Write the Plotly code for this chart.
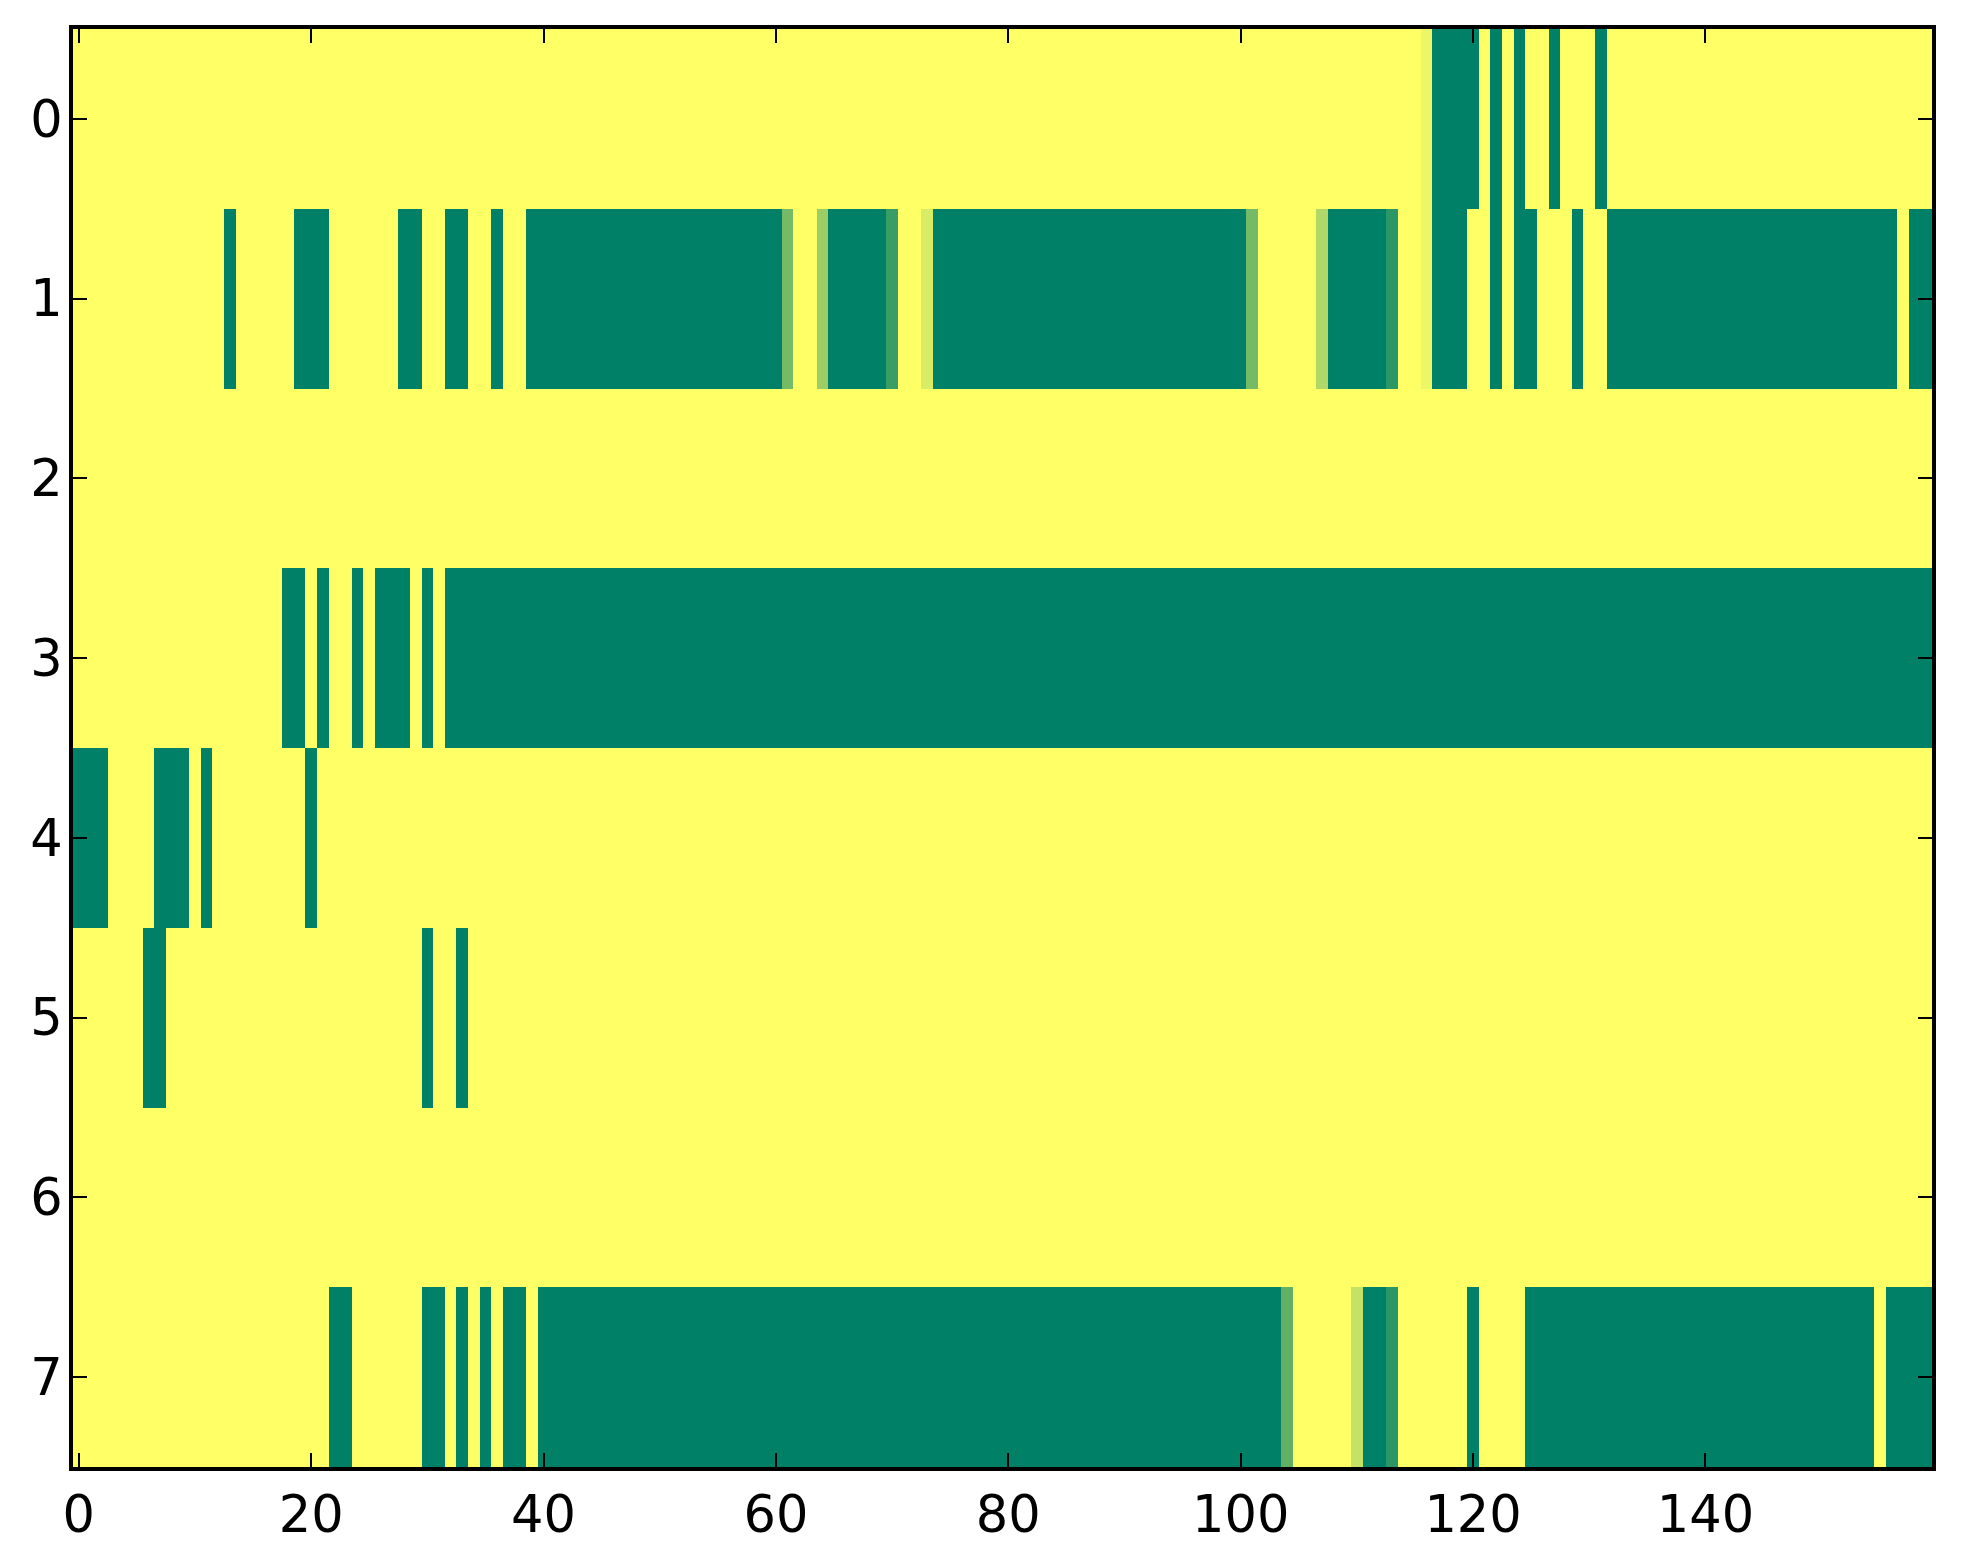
import plotly.graph_objects as go

# ---- data (8 rows x 160 columns, values 0..1) ----
ROW_0 = [
    1, 1, 1, 1, 1, 1, 1, 1, 1, 1, 1, 1, 1, 1, 1, 1, 1, 1, 1, 1,
    1, 1, 1, 1, 1, 1, 1, 1, 1, 1, 1, 1, 1, 1, 1, 1, 1, 1, 1, 1,
    1, 1, 1, 1, 1, 1, 1, 1, 1, 1, 1, 1, 1, 1, 1, 1, 1, 1, 1, 1,
    1, 1, 1, 1, 1, 1, 1, 1, 1, 1, 1, 1, 1, 1, 1, 1, 1, 1, 1, 1,
    1, 1, 1, 1, 1, 1, 1, 1, 1, 1, 1, 1, 1, 1, 1, 1, 1, 1, 1, 1,
    1, 1, 1, 1, 1, 1, 1, 1, 1, 1, 1, 1, 1, 1, 1, 1, 0.93, 0, 0, 0,
    0, 1, 0, 1, 0, 1, 1, 0, 1, 1, 1, 0, 1, 1, 1, 1, 1, 1, 1, 1,
    1, 1, 1, 1, 1, 1, 1, 1, 1, 1, 1, 1, 1, 1, 1, 1, 1, 1, 1, 1,
]
ROW_1 = [
    1, 1, 1, 1, 1, 1, 1, 1, 1, 1, 1, 1, 1, 0, 1, 1, 1, 1, 1, 0,
    0, 0, 1, 1, 1, 1, 1, 1, 0, 0, 1, 1, 0, 0, 1, 1, 0, 1, 1, 0,
    0, 0, 0, 0, 0, 0, 0, 0, 0, 0, 0, 0, 0, 0, 0, 0, 0, 0, 0, 0,
    0, 0.46, 1, 1, 0.61, 0, 0, 0, 0, 0, 0.23, 1, 1, 0.85, 0, 0, 0, 0, 0, 0,
    0, 0, 0, 0, 0, 0, 0, 0, 0, 0, 0, 0, 0, 0, 0, 0, 0, 0, 0, 0,
    0, 0.46, 1, 1, 1, 1, 1, 0.69, 0, 0, 0, 0, 0, 0.17, 1, 1, 0.93, 0, 0, 0,
    1, 1, 0, 1, 0, 0, 1, 1, 1, 0, 1, 1, 0, 0, 0, 0, 0, 0, 0, 0,
    0, 0, 0, 0, 0, 0, 0, 0, 0, 0, 0, 0, 0, 0, 0, 0, 0, 1, 0, 0,
]
ROW_2 = [
    1, 1, 1, 1, 1, 1, 1, 1, 1, 1, 1, 1, 1, 1, 1, 1, 1, 1, 1, 1,
    1, 1, 1, 1, 1, 1, 1, 1, 1, 1, 1, 1, 1, 1, 1, 1, 1, 1, 1, 1,
    1, 1, 1, 1, 1, 1, 1, 1, 1, 1, 1, 1, 1, 1, 1, 1, 1, 1, 1, 1,
    1, 1, 1, 1, 1, 1, 1, 1, 1, 1, 1, 1, 1, 1, 1, 1, 1, 1, 1, 1,
    1, 1, 1, 1, 1, 1, 1, 1, 1, 1, 1, 1, 1, 1, 1, 1, 1, 1, 1, 1,
    1, 1, 1, 1, 1, 1, 1, 1, 1, 1, 1, 1, 1, 1, 1, 1, 1, 1, 1, 1,
    1, 1, 1, 1, 1, 1, 1, 1, 1, 1, 1, 1, 1, 1, 1, 1, 1, 1, 1, 1,
    1, 1, 1, 1, 1, 1, 1, 1, 1, 1, 1, 1, 1, 1, 1, 1, 1, 1, 1, 1,
]
ROW_3 = [
    1, 1, 1, 1, 1, 1, 1, 1, 1, 1, 1, 1, 1, 1, 1, 1, 1, 1, 0, 0,
    1, 0, 1, 1, 0, 1, 0, 0, 0, 1, 0, 1, 0, 0, 0, 0, 0, 0, 0, 0,
    0, 0, 0, 0, 0, 0, 0, 0, 0, 0, 0, 0, 0, 0, 0, 0, 0, 0, 0, 0,
    0, 0, 0, 0, 0, 0, 0, 0, 0, 0, 0, 0, 0, 0, 0, 0, 0, 0, 0, 0,
    0, 0, 0, 0, 0, 0, 0, 0, 0, 0, 0, 0, 0, 0, 0, 0, 0, 0, 0, 0,
    0, 0, 0, 0, 0, 0, 0, 0, 0, 0, 0, 0, 0, 0, 0, 0, 0, 0, 0, 0,
    0, 0, 0, 0, 0, 0, 0, 0, 0, 0, 0, 0, 0, 0, 0, 0, 0, 0, 0, 0,
    0, 0, 0, 0, 0, 0, 0, 0, 0, 0, 0, 0, 0, 0, 0, 0, 0, 0, 0, 0,
]
ROW_4 = [
    0, 0, 0, 1, 1, 1, 1, 0, 0, 0, 1, 0, 1, 1, 1, 1, 1, 1, 1, 1,
    0, 1, 1, 1, 1, 1, 1, 1, 1, 1, 1, 1, 1, 1, 1, 1, 1, 1, 1, 1,
    1, 1, 1, 1, 1, 1, 1, 1, 1, 1, 1, 1, 1, 1, 1, 1, 1, 1, 1, 1,
    1, 1, 1, 1, 1, 1, 1, 1, 1, 1, 1, 1, 1, 1, 1, 1, 1, 1, 1, 1,
    1, 1, 1, 1, 1, 1, 1, 1, 1, 1, 1, 1, 1, 1, 1, 1, 1, 1, 1, 1,
    1, 1, 1, 1, 1, 1, 1, 1, 1, 1, 1, 1, 1, 1, 1, 1, 1, 1, 1, 1,
    1, 1, 1, 1, 1, 1, 1, 1, 1, 1, 1, 1, 1, 1, 1, 1, 1, 1, 1, 1,
    1, 1, 1, 1, 1, 1, 1, 1, 1, 1, 1, 1, 1, 1, 1, 1, 1, 1, 1, 1,
]
ROW_5 = [
    1, 1, 1, 1, 1, 1, 0, 0, 1, 1, 1, 1, 1, 1, 1, 1, 1, 1, 1, 1,
    1, 1, 1, 1, 1, 1, 1, 1, 1, 1, 0, 1, 1, 0, 1, 1, 1, 1, 1, 1,
    1, 1, 1, 1, 1, 1, 1, 1, 1, 1, 1, 1, 1, 1, 1, 1, 1, 1, 1, 1,
    1, 1, 1, 1, 1, 1, 1, 1, 1, 1, 1, 1, 1, 1, 1, 1, 1, 1, 1, 1,
    1, 1, 1, 1, 1, 1, 1, 1, 1, 1, 1, 1, 1, 1, 1, 1, 1, 1, 1, 1,
    1, 1, 1, 1, 1, 1, 1, 1, 1, 1, 1, 1, 1, 1, 1, 1, 1, 1, 1, 1,
    1, 1, 1, 1, 1, 1, 1, 1, 1, 1, 1, 1, 1, 1, 1, 1, 1, 1, 1, 1,
    1, 1, 1, 1, 1, 1, 1, 1, 1, 1, 1, 1, 1, 1, 1, 1, 1, 1, 1, 1,
]
ROW_6 = [
    1, 1, 1, 1, 1, 1, 1, 1, 1, 1, 1, 1, 1, 1, 1, 1, 1, 1, 1, 1,
    1, 1, 1, 1, 1, 1, 1, 1, 1, 1, 1, 1, 1, 1, 1, 1, 1, 1, 1, 1,
    1, 1, 1, 1, 1, 1, 1, 1, 1, 1, 1, 1, 1, 1, 1, 1, 1, 1, 1, 1,
    1, 1, 1, 1, 1, 1, 1, 1, 1, 1, 1, 1, 1, 1, 1, 1, 1, 1, 1, 1,
    1, 1, 1, 1, 1, 1, 1, 1, 1, 1, 1, 1, 1, 1, 1, 1, 1, 1, 1, 1,
    1, 1, 1, 1, 1, 1, 1, 1, 1, 1, 1, 1, 1, 1, 1, 1, 1, 1, 1, 1,
    1, 1, 1, 1, 1, 1, 1, 1, 1, 1, 1, 1, 1, 1, 1, 1, 1, 1, 1, 1,
    1, 1, 1, 1, 1, 1, 1, 1, 1, 1, 1, 1, 1, 1, 1, 1, 1, 1, 1, 1,
]
ROW_7 = [
    1, 1, 1, 1, 1, 1, 1, 1, 1, 1, 1, 1, 1, 1, 1, 1, 1, 1, 1, 1,
    1, 1, 0, 0, 1, 1, 1, 1, 1, 1, 0, 0, 1, 0, 1, 0, 1, 0, 0, 1,
    0, 0, 0, 0, 0, 0, 0, 0, 0, 0, 0, 0, 0, 0, 0, 0, 0, 0, 0, 0,
    0, 0, 0, 0, 0, 0, 0, 0, 0, 0, 0, 0, 0, 0, 0, 0, 0, 0, 0, 0,
    0, 0, 0, 0, 0, 0, 0, 0, 0, 0, 0, 0, 0, 0, 0, 0, 0, 0, 0, 0,
    0, 0, 0, 0, 0.38, 1, 1, 1, 1, 1, 0.77, 0, 0, 0.17, 1, 1, 1, 1, 1, 1,
    0, 1, 1, 1, 1, 0, 0, 0, 0, 0, 0, 0, 0, 0, 0, 0, 0, 0, 0, 0,
    0, 0, 0, 0, 0, 0, 0, 0, 0, 0, 0, 0, 0, 0, 0, 1, 0, 0, 0, 0,
]

ROW_IDS = [0, 1, 2, 3, 4, 5, 6, 7]
X_TICKS = [0, 20, 40, 60, 80, 100, 120, 140]
Y_TICKS = [0, 1, 2, 3, 4, 5, 6, 7]

ROWS = [ROW_0, ROW_1, ROW_2, ROW_3, ROW_4, ROW_5, ROW_6, ROW_7]
COLS = list(range(len(ROW_0)))

# matplotlib "summer" colormap (linear): (v, 0.5 + 0.5 v, 0.4)
SUMMER = [[0.0, "rgb(0,128,102)"], [1.0, "rgb(255,255,102)"]]

fig = go.Figure(
    go.Heatmap(
        z=ROWS,
        x=COLS,
        y=ROW_IDS,
        colorscale=SUMMER,
        zmin=0,
        zmax=1,
        showscale=False,
        hoverinfo="skip",
    )
)

axis_common = dict(
    ticks="inside",
    ticklen=14,
    tickwidth=1.5,
    tickcolor="black",
    showline=True,
    linewidth=4,
    linecolor="black",
    mirror="allticks",
    showgrid=False,
    zeroline=False,
    tickfont=dict(family="DejaVu Sans", size=51, color="black"),
)

fig.update_xaxes(
    range=[-0.5, len(COLS) - 0.5],
    tickmode="array",
    tickvals=X_TICKS,
    ticktext=[str(v) for v in X_TICKS],
    ticklabelstandoff=0,
    **axis_common,
)
fig.update_yaxes(
    range=[len(ROW_IDS) - 0.5, -0.5],
    tickmode="array",
    tickvals=Y_TICKS,
    ticktext=[str(v) for v in Y_TICKS],
    ticklabelstandoff=-4,
    **axis_common,
)

fig.update_layout(
    width=1947,
    height=1548,
    autosize=False,
    margin=dict(l=65, r=23, t=21, b=89, pad=0),
    paper_bgcolor="white",
    plot_bgcolor="white",
    font=dict(family="DejaVu Sans", size=51, color="black"),
)

fig.write_html("out.html")
